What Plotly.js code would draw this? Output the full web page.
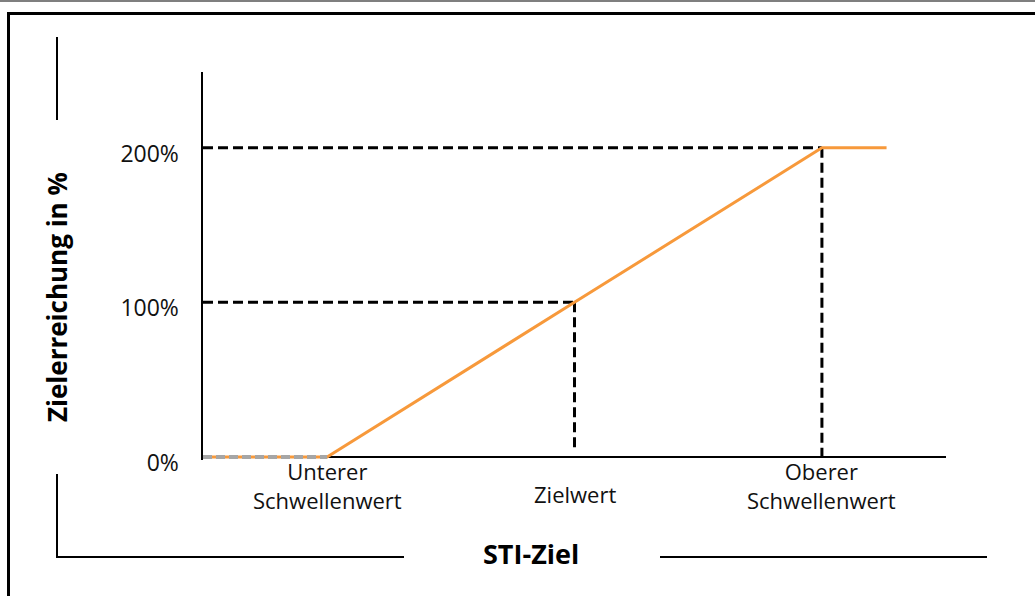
<!DOCTYPE html>
<html>
<head>
<meta charset="utf-8">
<script src="https://cdn.plot.ly/plotly-3.0.1.min.js"></script>
<style>
  html, body { margin: 0; padding: 0; background: #ffffff; }
  #chart { width: 1035px; height: 596px; }
</style>
</head>
<body>
<div id="chart"></div>
<script>
// ---- data ----
const categories = ['Unterer<br>Schwellenwert', 'Zielwert', 'Oberer<br>Schwellenwert'];
const thresholdX = [16.7, 50, 83.3];          // x position of the three thresholds
const curveX = [0, 16.7, 50, 83.3, 92];       // payout curve
const curveY = [0, 0, 100, 200, 200];
const belowThresholdX = [0, 16.7];            // grey dashed part below lower threshold
const belowThresholdY = [0, 0];
const levelY = [0, 100, 200];                 // Zielerreichung levels
const yTickText = ['0%', '100%', '200%'];
const zielGuideBottom = 5;                    // vertical guide at Zielwert stops just above axis
const yTitle = 'Zielerreichung in %';
const xTitle = 'STI-Ziel';

// ---- layout helpers ----
const W = 1035, H = 596;
const M = {l: 203, r: 89, t: 72, b: 136};
const pw = W - M.l - M.r, ph = H - M.t - M.b;
const px = x => (x - M.l) / pw;          // pixel -> paper x
const py = y => (H - M.b - y) / ph;      // pixel -> paper y

const FONT = '"Open Sans", "Noto Sans", sans-serif';
const dashBlack = {color: '#000000', width: 3, dash: '10px,5px'};

const traces = [
  {x: [0, thresholdX[2]], y: [levelY[2], levelY[2]], mode: 'lines', line: dashBlack, hoverinfo: 'skip'},
  {x: [0, thresholdX[1]], y: [levelY[1], levelY[1]], mode: 'lines', line: dashBlack, hoverinfo: 'skip'},
  {x: [thresholdX[1], thresholdX[1]], y: [levelY[1], zielGuideBottom], mode: 'lines', line: dashBlack, hoverinfo: 'skip'},
  {x: [thresholdX[2], thresholdX[2]], y: [levelY[2], levelY[0]], mode: 'lines', line: dashBlack, hoverinfo: 'skip'},
  {x: curveX, y: curveY, mode: 'lines', line: {color: '#F7993B', width: 3}, hoverinfo: 'skip'},
  {x: belowThresholdX, y: belowThresholdY, mode: 'lines', line: {color: '#A6A6A6', width: 4, dash: '9px,4px'}, hoverinfo: 'skip'}
];

const annotations = categories.map((c, i) => ({
  text: c, xref: 'x', yref: 'paper', x: thresholdX[i], y: 0,
  xanchor: 'center', yanchor: i === 1 ? 'middle' : 'top',
  yshift: i === 1 ? -34 : 6,
  showarrow: false, align: 'center',
  font: {family: FONT, size: 22, color: '#111111'}
}));
annotations.push({
  text: '<b>' + yTitle + '</b>', xref: 'paper', yref: 'paper',
  x: px(57), y: py(297), xanchor: 'center', yanchor: 'middle',
  textangle: -90, showarrow: false,
  font: {family: FONT, size: 26, color: '#000000'}
});
annotations.push({
  text: '<b>' + xTitle + '</b>', xref: 'paper', yref: 'paper',
  x: px(531), y: py(553), xanchor: 'center', yanchor: 'middle',
  showarrow: false,
  font: {family: FONT, size: 27, color: '#000000'}
});

const ln = (x0, y0, x1, y1, w, c) => ({
  type: 'line', xref: 'paper', yref: 'paper',
  x0: px(x0), y0: py(y0), x1: px(x1), y1: py(y1),
  line: {color: c || '#000000', width: w}
});

const shapes = [
  ln(0, 1, 1035, 1, 1.5, '#555555'),
  ln(7, 13.5, 1035, 13.5, 3),
  ln(8.5, 13, 8.5, 596, 3),
  ln(57, 37, 57, 120, 2),
  ln(57, 474, 57, 557, 2),
  ln(56, 557, 404, 557, 2),
  ln(660, 557, 987, 557, 2)
];

const layout = {
  width: W, height: H,
  margin: M,
  paper_bgcolor: '#ffffff', plot_bgcolor: '#ffffff',
  showlegend: false,
  xaxis: {
    range: [0, 100], showline: false, showgrid: false, zeroline: false,
    showticklabels: false, ticks: '', fixedrange: true
  },
  yaxis: {
    range: [-2, 249], showline: true, linecolor: '#000000', linewidth: 2.5,
    showgrid: false, zeroline: true, zerolinecolor: '#000000', zerolinewidth: 2.5,
    tickmode: 'array', tickvals: levelY, ticktext: yTickText, ticks: '',
    ticklabelstandoff: 17, ticklabelshift: 6,
    tickfont: {family: FONT, size: 23, color: '#111111'}, fixedrange: true
  },
  annotations: annotations,
  shapes: shapes
};

Plotly.newPlot('chart', traces, layout, {displayModeBar: false, staticPlot: true});
</script>
</body>
</html>
